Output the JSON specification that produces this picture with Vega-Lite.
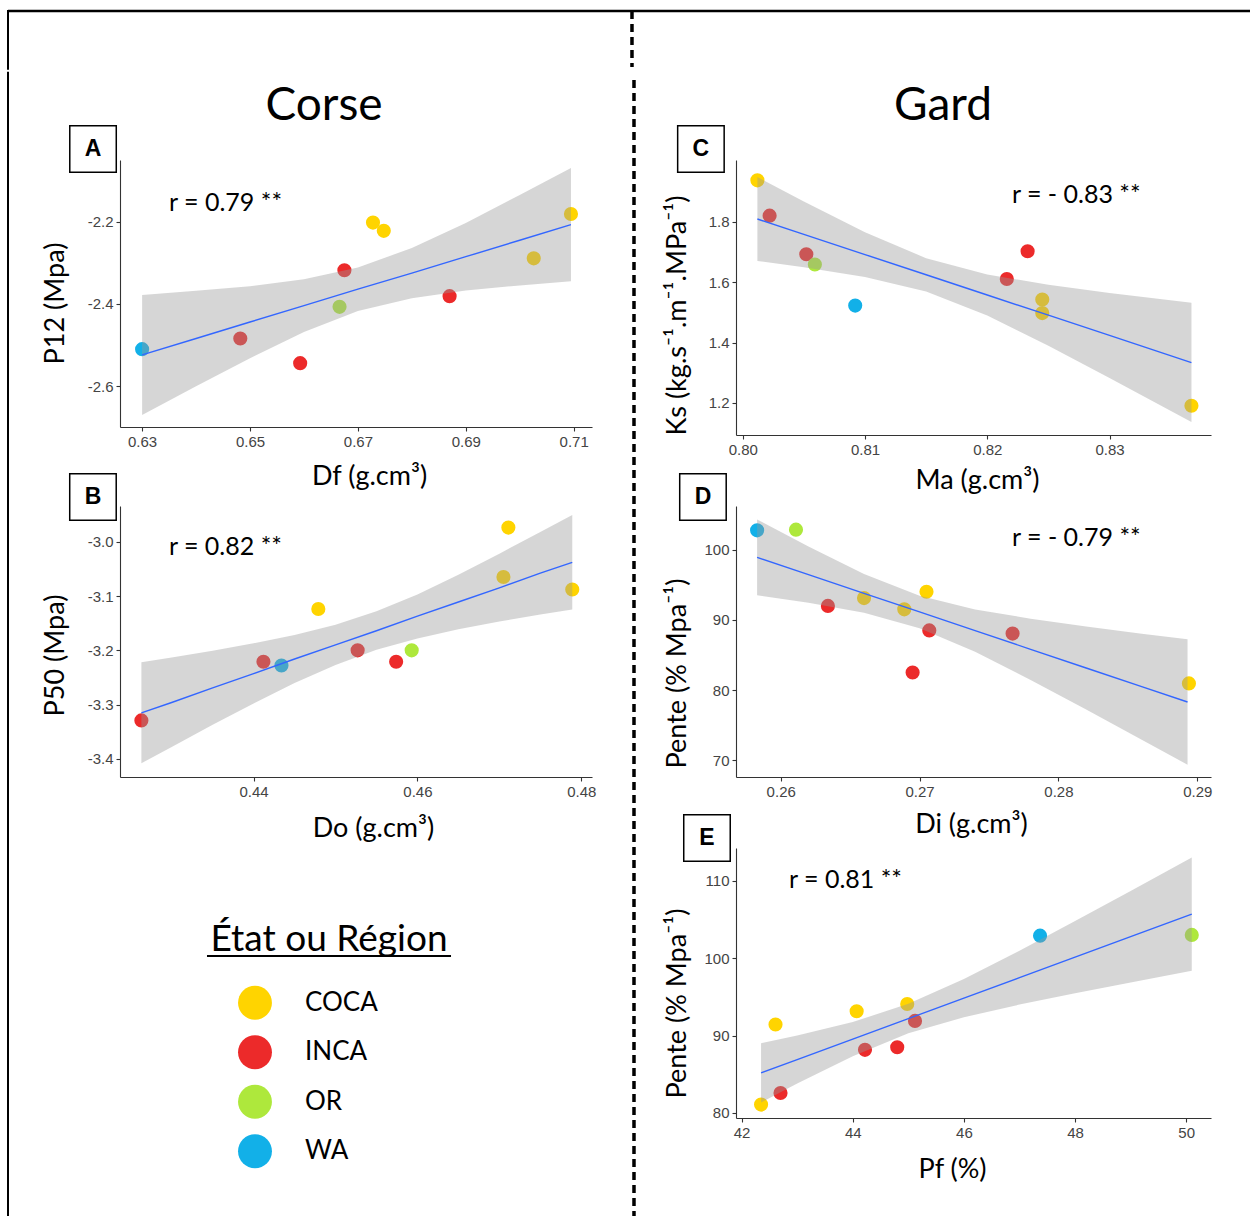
{
  "$schema": "https://vega.github.io/schema/vega-lite/v6.json",
  "padding": {"left": 6, "top": 9, "right": 0, "bottom": 0},
  "background": "white",
  "spacing": 0,
  "datasets": {
    "ptsA": [
      {"region": "WA", "x": 0.6300, "y": -2.510},
      {"region": "INCA", "x": 0.6482, "y": -2.484},
      {"region": "INCA", "x": 0.6593, "y": -2.544},
      {"region": "OR", "x": 0.6666, "y": -2.407},
      {"region": "INCA", "x": 0.6675, "y": -2.318},
      {"region": "COCA", "x": 0.6728, "y": -2.202},
      {"region": "COCA", "x": 0.6748, "y": -2.222},
      {"region": "INCA", "x": 0.6870, "y": -2.381},
      {"region": "COCA", "x": 0.7026, "y": -2.289},
      {"region": "COCA", "x": 0.7095, "y": -2.181}
    ],
    "fitA": [
      {"x": 0.63, "fit": -2.524, "lo": -2.670, "hi": -2.378},
      {"x": 0.64, "fit": -2.484, "lo": -2.600, "hi": -2.368},
      {"x": 0.65, "fit": -2.444, "lo": -2.532, "hi": -2.357},
      {"x": 0.66, "fit": -2.404, "lo": -2.468, "hi": -2.340},
      {"x": 0.67, "fit": -2.364, "lo": -2.417, "hi": -2.311},
      {"x": 0.68, "fit": -2.325, "lo": -2.386, "hi": -2.264},
      {"x": 0.69, "fit": -2.285, "lo": -2.367, "hi": -2.203},
      {"x": 0.70, "fit": -2.245, "lo": -2.355, "hi": -2.135},
      {"x": 0.7095, "fit": -2.207, "lo": -2.345, "hi": -2.069}
    ],
    "ptsB": [
      {"region": "INCA", "x": 0.4263, "y": -3.329},
      {"region": "INCA", "x": 0.4412, "y": -3.221},
      {"region": "WA", "x": 0.4434, "y": -3.228},
      {"region": "COCA", "x": 0.4479, "y": -3.124},
      {"region": "INCA", "x": 0.4527, "y": -3.200},
      {"region": "INCA", "x": 0.4574, "y": -3.221},
      {"region": "OR", "x": 0.4593, "y": -3.200},
      {"region": "COCA", "x": 0.4705, "y": -3.065},
      {"region": "COCA", "x": 0.4711, "y": -2.974},
      {"region": "COCA", "x": 0.4789, "y": -3.088}
    ],
    "fitB": [
      {"x": 0.4263, "fit": -3.315, "lo": -3.408, "hi": -3.222},
      {"x": 0.430, "fit": -3.296, "lo": -3.378, "hi": -3.213},
      {"x": 0.435, "fit": -3.269, "lo": -3.337, "hi": -3.201},
      {"x": 0.440, "fit": -3.243, "lo": -3.298, "hi": -3.187},
      {"x": 0.445, "fit": -3.216, "lo": -3.260, "hi": -3.172},
      {"x": 0.450, "fit": -3.190, "lo": -3.227, "hi": -3.153},
      {"x": 0.455, "fit": -3.164, "lo": -3.199, "hi": -3.128},
      {"x": 0.460, "fit": -3.137, "lo": -3.178, "hi": -3.097},
      {"x": 0.465, "fit": -3.111, "lo": -3.161, "hi": -3.061},
      {"x": 0.470, "fit": -3.085, "lo": -3.147, "hi": -3.022},
      {"x": 0.475, "fit": -3.058, "lo": -3.134, "hi": -2.982},
      {"x": 0.4789, "fit": -3.038, "lo": -3.125, "hi": -2.951}
    ],
    "ptsC": [
      {"region": "COCA", "x": 0.8012, "y": 1.938},
      {"region": "INCA", "x": 0.8022, "y": 1.821},
      {"region": "INCA", "x": 0.8052, "y": 1.693},
      {"region": "OR", "x": 0.8059, "y": 1.659},
      {"region": "WA", "x": 0.8092, "y": 1.523},
      {"region": "INCA", "x": 0.8216, "y": 1.611},
      {"region": "INCA", "x": 0.8233, "y": 1.703},
      {"region": "COCA", "x": 0.8245, "y": 1.543},
      {"region": "COCA", "x": 0.8245, "y": 1.498},
      {"region": "COCA", "x": 0.8367, "y": 1.191}
    ],
    "fitC": [
      {"x": 0.8012, "fit": 1.810, "lo": 1.671, "hi": 1.949},
      {"x": 0.805, "fit": 1.759, "lo": 1.650, "hi": 1.868},
      {"x": 0.810, "fit": 1.692, "lo": 1.618, "hi": 1.766},
      {"x": 0.815, "fit": 1.625, "lo": 1.570, "hi": 1.680},
      {"x": 0.820, "fit": 1.558, "lo": 1.490, "hi": 1.626},
      {"x": 0.825, "fit": 1.491, "lo": 1.390, "hi": 1.592},
      {"x": 0.830, "fit": 1.424, "lo": 1.283, "hi": 1.565},
      {"x": 0.8367, "fit": 1.334, "lo": 1.137, "hi": 1.532}
    ],
    "ptsD": [
      {"region": "WA", "x": 0.2583, "y": 102.75},
      {"region": "OR", "x": 0.2611, "y": 102.85},
      {"region": "INCA", "x": 0.2634, "y": 91.99},
      {"region": "COCA", "x": 0.2660, "y": 93.1},
      {"region": "COCA", "x": 0.2689, "y": 91.5},
      {"region": "COCA", "x": 0.2705, "y": 94.0},
      {"region": "INCA", "x": 0.2707, "y": 88.5},
      {"region": "INCA", "x": 0.2695, "y": 82.5},
      {"region": "INCA", "x": 0.2767, "y": 88.05},
      {"region": "COCA", "x": 0.2894, "y": 80.95}
    ],
    "fitD": [
      {"x": 0.2583, "fit": 98.90, "lo": 93.50, "hi": 104.30},
      {"x": 0.262, "fit": 96.44, "lo": 92.44, "hi": 100.44},
      {"x": 0.266, "fit": 93.78, "lo": 91.02, "hi": 96.54},
      {"x": 0.270, "fit": 91.13, "lo": 88.82, "hi": 93.44},
      {"x": 0.274, "fit": 88.47, "lo": 85.45, "hi": 91.49},
      {"x": 0.278, "fit": 85.81, "lo": 81.45, "hi": 90.17},
      {"x": 0.282, "fit": 83.15, "lo": 77.24, "hi": 89.06},
      {"x": 0.286, "fit": 80.49, "lo": 72.94, "hi": 88.04},
      {"x": 0.2893, "fit": 78.30, "lo": 69.37, "hi": 87.23}
    ],
    "ptsE": [
      {"region": "COCA", "x": 42.35, "y": 81.08},
      {"region": "INCA", "x": 42.70, "y": 82.58},
      {"region": "COCA", "x": 42.61, "y": 91.42},
      {"region": "COCA", "x": 44.07, "y": 93.14},
      {"region": "INCA", "x": 44.22, "y": 88.15},
      {"region": "INCA", "x": 44.80, "y": 88.49},
      {"region": "COCA", "x": 44.98, "y": 94.07},
      {"region": "INCA", "x": 45.12, "y": 91.89},
      {"region": "WA", "x": 47.37, "y": 102.9},
      {"region": "OR", "x": 50.10, "y": 103.0}
    ],
    "fitE": [
      {"x": 42.35, "fit": 85.18, "lo": 81.35, "hi": 89.01},
      {"x": 43, "fit": 86.90, "lo": 83.80, "hi": 90.00},
      {"x": 44, "fit": 89.54, "lo": 87.34, "hi": 91.74},
      {"x": 45, "fit": 92.19, "lo": 90.28, "hi": 94.10},
      {"x": 46, "fit": 94.83, "lo": 92.37, "hi": 97.29},
      {"x": 47, "fit": 97.48, "lo": 94.00, "hi": 100.96},
      {"x": 48, "fit": 100.12, "lo": 95.46, "hi": 104.78},
      {"x": 49, "fit": 102.77, "lo": 96.86, "hi": 108.68},
      {"x": 50.1, "fit": 105.68, "lo": 98.36, "hi": 113.00}
    ],
    "regions": [
      {"region": "COCA"}, {"region": "INCA"}, {"region": "OR"}, {"region": "WA"}
    ],
    "one": [{}]
  },
  "vconcat": [
    {
      "width": 1242,
      "height": 56,
      "data": {"name": "one"},
      "layer": [
        {"mark": {"type": "rule", "color": "black", "strokeWidth": 2.5},
         "encoding": {"y": {"datum": 1, "type": "quantitative", "scale": {"domain": [0, 1]}, "axis": null}}},
        {"mark": {"type": "rule", "color": "black", "strokeWidth": 2, "strokeCap": "square"},
         "encoding": {
           "x": {"datum": 0, "type": "quantitative", "scale": {"domain": [0, 1]}, "axis": null},
           "y": {"datum": 1, "type": "quantitative"},
           "y2": {"datum": -0.03}}},
        {"mark": {"type": "rule", "color": "black", "strokeWidth": 3.5, "strokeDash": [8, 5]},
         "encoding": {"x": {"datum": 0.5024, "type": "quantitative"}}}
      ]
    },
    {
      "spacing": 0,
      "hconcat": [
        {
          "width": 33,
          "height": 1059,
          "data": {"name": "one"},
          "mark": {"type": "rule", "color": "black", "strokeWidth": 2, "strokeCap": "square"},
          "encoding": {
            "x": {"datum": 0, "type": "quantitative", "scale": {"domain": [0, 1]}, "axis": null},
            "y": {"datum": 0, "type": "quantitative", "scale": {"domain": [0, 1]}, "axis": null},
            "y2": {"datum": 1.0825}
          }
        },
        {
          "spacing": 79,
          "bounds": "flush",
          "vconcat": [
            {
              "width": 472,
              "height": 267,
              "layer": [
                {"data": {"name": "ptsA"}, "mark": {"type": "circle", "size": 200, "opacity": 1},
                 "encoding": {
                   "x": {"field": "x", "type": "quantitative", "scale": {"domain": [0.6259, 0.7134], "nice": false, "zero": false},
                         "axis": {"title": "Df (g.cm³)", "values": [0.63, 0.65, 0.67, 0.69, 0.71], "format": ".2f", "titlePadding": 14, "titleX": 249}},
                   "y": {"field": "y", "type": "quantitative", "scale": {"domain": [-2.6994, -2.0497], "nice": false, "zero": false},
                         "axis": {"title": "P12 (Mpa)", "values": [-2.6, -2.4, -2.2], "format": ".1f", "titlePadding": 18, "titleY": 143}},
                   "color": {"field": "region", "type": "nominal", "scale": {"domain": ["COCA", "INCA", "OR", "WA"], "range": ["#FFD400", "#EC2A2A", "#AEE83C", "#12B0E8"]}, "legend": null}}},
                {"data": {"name": "fitA"}, "mark": {"type": "area", "color": "#999999", "opacity": 0.4},
                 "encoding": {"x": {"field": "x", "type": "quantitative", "title": "Df (g.cm³)"}, "y": {"field": "lo", "type": "quantitative", "title": "P12 (Mpa)"}, "y2": {"field": "hi"}}},
                {"data": {"name": "fitA"}, "mark": {"type": "line", "color": "#3366FF", "strokeWidth": 1.4},
                 "encoding": {"x": {"field": "x", "type": "quantitative", "title": "Df (g.cm³)"}, "y": {"field": "fit", "type": "quantitative", "title": "P12 (Mpa)"}}},
                {"data": {"name": "one"}, "mark": {"type": "text", "align": "left", "baseline": "middle", "font": "Lato", "fontSize": 25, "color": "black"},
                 "encoding": {"x": {"datum": 0.635}, "y": {"datum": -2.1543}, "text": {"value": "r = 0.79 **"}}},
                {"data": {"name": "one"}, "mark": {"type": "point", "shape": "square", "size": 2162, "filled": false, "color": "black", "strokeWidth": 1.5, "opacity": 1},
                 "encoding": {"x": {"datum": 0.6209}, "y": {"datum": -2.0229}}},
                {"data": {"name": "one"}, "mark": {"type": "text", "align": "center", "baseline": "middle", "font": "Liberation Sans", "fontWeight": "bold", "fontSize": 23, "color": "black"},
                 "encoding": {"x": {"datum": 0.6209}, "y": {"datum": -2.0229}, "text": {"value": "A"}}},
                {"data": {"name": "one"}, "mark": {"type": "text", "align": "center", "baseline": "alphabetic", "font": "Lato", "fontSize": 46, "color": "black"},
                 "encoding": {"x": {"datum": 0.66372}, "y": {"datum": -1.9524}, "text": {"value": "Corse"}}}
              ]
            },
            {
              "width": 472,
              "height": 271,
              "layer": [
                {"data": {"name": "ptsB"}, "mark": {"type": "circle", "size": 200, "opacity": 1},
                 "encoding": {
                   "x": {"field": "x", "type": "quantitative", "scale": {"domain": [0.42369, 0.48131], "nice": false, "zero": false},
                         "axis": {"title": "Do (g.cm³)", "values": [0.44, 0.46, 0.48], "format": ".2f", "titlePadding": 16, "titleX": 253}},
                   "y": {"field": "y", "type": "quantitative", "scale": {"domain": [-3.4332, -2.9343], "nice": false, "zero": false},
                         "axis": {"title": "P50 (Mpa)", "values": [-3.4, -3.3, -3.2, -3.1, -3.0], "format": ".1f", "titlePadding": 18, "titleY": 149}},
                   "color": {"field": "region", "type": "nominal", "scale": {"domain": ["COCA", "INCA", "OR", "WA"], "range": ["#FFD400", "#EC2A2A", "#AEE83C", "#12B0E8"]}, "legend": null}}},
                {"data": {"name": "fitB"}, "mark": {"type": "area", "color": "#999999", "opacity": 0.4},
                 "encoding": {"x": {"field": "x", "type": "quantitative", "title": "Do (g.cm³)"}, "y": {"field": "lo", "type": "quantitative", "title": "P50 (Mpa)"}, "y2": {"field": "hi"}}},
                {"data": {"name": "fitB"}, "mark": {"type": "line", "color": "#3366FF", "strokeWidth": 1.4},
                 "encoding": {"x": {"field": "x", "type": "quantitative", "title": "Do (g.cm³)"}, "y": {"field": "fit", "type": "quantitative", "title": "P50 (Mpa)"}}},
                {"data": {"name": "one"}, "mark": {"type": "text", "align": "left", "baseline": "middle", "font": "Lato", "fontSize": 25, "color": "black"},
                 "encoding": {"x": {"datum": 0.42967}, "y": {"datum": -3.00978}, "text": {"value": "r = 0.82 **"}}},
                {"data": {"name": "one"}, "mark": {"type": "point", "shape": "square", "size": 2162, "filled": false, "color": "black", "strokeWidth": 1.5, "opacity": 1},
                 "encoding": {"x": {"datum": 0.42039}, "y": {"datum": -2.91773}}},
                {"data": {"name": "one"}, "mark": {"type": "text", "align": "center", "baseline": "middle", "font": "Liberation Sans", "fontWeight": "bold", "fontSize": 23, "color": "black"},
                 "encoding": {"x": {"datum": 0.42039}, "y": {"datum": -2.91773}, "text": {"value": "B"}}}
              ]
            },
            {
              "width": 472,
              "height": 320,
              "data": {"name": "regions"},
              "resolve": {"scale": {"y": "independent"}},
              "layer": [
                {"mark": {"type": "circle", "size": 1150, "opacity": 1},
                 "encoding": {
                   "x": {"datum": 0.286, "type": "quantitative", "scale": {"domain": [0, 1]}, "axis": null},
                   "y": {"field": "region", "type": "nominal", "scale": {"type": "band", "domain": ["_", "__", "COCA", "INCA", "OR", "WA"], "paddingInner": 0, "paddingOuter": 0.2323, "align": 1}, "axis": null},
                   "color": {"field": "region", "type": "nominal", "scale": {"domain": ["COCA", "INCA", "OR", "WA"], "range": ["#FFD400", "#EC2A2A", "#AEE83C", "#12B0E8"]}, "legend": null}}},
                {"mark": {"type": "text", "align": "left", "baseline": "middle", "font": "Lato", "fontSize": 26, "color": "black"},
                 "encoding": {
                   "x": {"datum": 0.392, "type": "quantitative"},
                   "y": {"field": "region", "type": "nominal", "scale": {"type": "band", "domain": ["_", "__", "COCA", "INCA", "OR", "WA"], "paddingInner": 0, "paddingOuter": 0.2323, "align": 1}, "axis": null},
                   "text": {"field": "region"}}},
                {"data": {"name": "one"}, "mark": {"type": "text", "align": "center", "baseline": "alphabetic", "font": "Lato", "fontSize": 37, "color": "black"},
                 "encoding": {
                   "x": {"datum": 0.4428, "type": "quantitative"},
                   "y": {"datum": 0.7031, "type": "quantitative", "scale": {"domain": [0, 1]}, "axis": null},
                   "text": {"value": "État ou Région"}}},
                {"data": {"name": "one"}, "mark": {"type": "rule", "color": "black", "strokeWidth": 2},
                 "encoding": {
                   "x": {"datum": 0.1843, "type": "quantitative"},
                   "x2": {"datum": 0.7013},
                   "y": {"datum": 0.6875, "type": "quantitative", "scale": {"domain": [0, 1]}, "axis": null}}}
              ]
            }
          ]
        },
        {
          "width": 67,
          "height": 1059,
          "data": {"name": "one"},
          "mark": {"type": "rule", "color": "black", "strokeWidth": 3.5, "strokeDash": [8, 5]},
          "encoding": {
            "x": {"datum": 0.567, "type": "quantitative", "scale": {"domain": [0, 1]}, "axis": null},
            "y": {"datum": 0, "type": "quantitative", "scale": {"domain": [0, 1]}, "axis": null},
            "y2": {"datum": 1.0803}
          }
        },
        {
          "spacing": 71,
          "bounds": "flush",
          "vconcat": [
            {
              "width": 475,
              "height": 275,
              "layer": [
                {"data": {"name": "ptsC"}, "mark": {"type": "circle", "size": 200, "opacity": 1},
                 "encoding": {
                   "x": {"field": "x", "type": "quantitative", "scale": {"domain": [0.79945, 0.8383], "nice": false, "zero": false},
                         "axis": {"title": "Ma (g.cm³)", "values": [0.80, 0.81, 0.82, 0.83], "format": ".2f", "titlePadding": 10, "titleX": 241}},
                   "y": {"field": "y", "type": "quantitative", "scale": {"domain": [1.0939, 2.0055], "nice": false, "zero": false},
                         "axis": {"title": "Ks  (kg.s⁻¹.m⁻¹.MPa⁻¹)", "values": [1.2, 1.4, 1.6, 1.8], "format": ".1f", "titlePadding": 17, "titleY": 155}},
                   "color": {"field": "region", "type": "nominal", "scale": {"domain": ["COCA", "INCA", "OR", "WA"], "range": ["#FFD400", "#EC2A2A", "#AEE83C", "#12B0E8"]}, "legend": null}}},
                {"data": {"name": "fitC"}, "mark": {"type": "area", "color": "#999999", "opacity": 0.4},
                 "encoding": {"x": {"field": "x", "type": "quantitative", "title": "Ma (g.cm³)"}, "y": {"field": "lo", "type": "quantitative", "title": "Ks  (kg.s⁻¹.m⁻¹.MPa⁻¹)"}, "y2": {"field": "hi"}}},
                {"data": {"name": "fitC"}, "mark": {"type": "line", "color": "#3366FF", "strokeWidth": 1.4},
                 "encoding": {"x": {"field": "x", "type": "quantitative", "title": "Ma (g.cm³)"}, "y": {"field": "fit", "type": "quantitative", "title": "Ks  (kg.s⁻¹.m⁻¹.MPa⁻¹)"}}},
                {"data": {"name": "one"}, "mark": {"type": "text", "align": "left", "baseline": "middle", "font": "Lato", "fontSize": 25, "color": "black"},
                 "encoding": {"x": {"datum": 0.82202}, "y": {"datum": 1.8895}, "text": {"value": "r = - 0.83 **"}}},
                {"data": {"name": "one"}, "mark": {"type": "point", "shape": "square", "size": 2162, "filled": false, "color": "black", "strokeWidth": 1.5, "opacity": 1},
                 "encoding": {"x": {"datum": 0.79658}, "y": {"datum": 2.04198}}},
                {"data": {"name": "one"}, "mark": {"type": "text", "align": "center", "baseline": "middle", "font": "Liberation Sans", "fontWeight": "bold", "fontSize": 23, "color": "black"},
                 "encoding": {"x": {"datum": 0.79658}, "y": {"datum": 2.04198}, "text": {"value": "C"}}},
                {"data": {"name": "one"}, "mark": {"type": "text", "align": "center", "baseline": "alphabetic", "font": "Lato", "fontSize": 46, "color": "black"},
                 "encoding": {"x": {"datum": 0.81638}, "y": {"datum": 2.13812}, "text": {"value": "Gard"}}}
              ]
            },
            {
              "width": 475,
              "height": 271,
              "layer": [
                {"data": {"name": "ptsD"}, "mark": {"type": "circle", "size": 200, "opacity": 1},
                 "encoding": {
                   "x": {"field": "x", "type": "quantitative", "scale": {"domain": [0.25678, 0.29099], "nice": false, "zero": false},
                         "axis": {"title": "Di (g.cm³)", "values": [0.26, 0.27, 0.28, 0.29], "format": ".2f", "titlePadding": 12, "titleX": 235}},
                   "y": {"field": "y", "type": "quantitative", "scale": {"domain": [67.62, 106.22], "nice": false, "zero": false},
                         "axis": {"title": "Pente (% Mpa⁻¹)", "values": [70, 80, 90, 100], "format": "d", "titlePadding": 12, "titleY": 167}},
                   "color": {"field": "region", "type": "nominal", "scale": {"domain": ["COCA", "INCA", "OR", "WA"], "range": ["#FFD400", "#EC2A2A", "#AEE83C", "#12B0E8"]}, "legend": null}}},
                {"data": {"name": "fitD"}, "mark": {"type": "area", "color": "#999999", "opacity": 0.4},
                 "encoding": {"x": {"field": "x", "type": "quantitative", "title": "Di (g.cm³)"}, "y": {"field": "lo", "type": "quantitative", "title": "Pente (% Mpa⁻¹)"}, "y2": {"field": "hi"}}},
                {"data": {"name": "fitD"}, "mark": {"type": "line", "color": "#3366FF", "strokeWidth": 1.4},
                 "encoding": {"x": {"field": "x", "type": "quantitative", "title": "Di (g.cm³)"}, "y": {"field": "fit", "type": "quantitative", "title": "Pente (% Mpa⁻¹)"}}},
                {"data": {"name": "one"}, "mark": {"type": "text", "align": "left", "baseline": "middle", "font": "Lato", "fontSize": 25, "color": "black"},
                 "encoding": {"x": {"datum": 0.27666}, "y": {"datum": 101.66}, "text": {"value": "r = - 0.79 **"}}},
                {"data": {"name": "one"}, "mark": {"type": "point", "shape": "square", "size": 2162, "filled": false, "color": "black", "strokeWidth": 1.5, "opacity": 1},
                 "encoding": {"x": {"datum": 0.2544}, "y": {"datum": 107.5}}},
                {"data": {"name": "one"}, "mark": {"type": "text", "align": "center", "baseline": "middle", "font": "Liberation Sans", "fontWeight": "bold", "fontSize": 23, "color": "black"},
                 "encoding": {"x": {"datum": 0.2544}, "y": {"datum": 107.5}, "text": {"value": "D"}}}
              ]
            },
            {
              "width": 475,
              "height": 270,
              "layer": [
                {"data": {"name": "ptsE"}, "mark": {"type": "circle", "size": 200, "opacity": 1},
                 "encoding": {
                   "x": {"field": "x", "type": "quantitative", "scale": {"domain": [41.899, 50.446], "nice": false, "zero": false},
                         "axis": {"title": "Pf (%)", "values": [42, 44, 46, 48, 50], "format": "d", "titlePadding": 16, "titleX": 216}},
                   "y": {"field": "y", "type": "quantitative", "scale": {"domain": [79.35, 114.22], "nice": false, "zero": false},
                         "axis": {"title": "Pente (% Mpa⁻¹)", "values": [80, 90, 100, 110], "format": "d", "titlePadding": 12, "titleY": 155}},
                   "color": {"field": "region", "type": "nominal", "scale": {"domain": ["COCA", "INCA", "OR", "WA"], "range": ["#FFD400", "#EC2A2A", "#AEE83C", "#12B0E8"]}, "legend": null}}},
                {"data": {"name": "fitE"}, "mark": {"type": "area", "color": "#999999", "opacity": 0.4},
                 "encoding": {"x": {"field": "x", "type": "quantitative", "title": "Pf (%)"}, "y": {"field": "lo", "type": "quantitative", "title": "Pente (% Mpa⁻¹)"}, "y2": {"field": "hi"}}},
                {"data": {"name": "fitE"}, "mark": {"type": "line", "color": "#3366FF", "strokeWidth": 1.4},
                 "encoding": {"x": {"field": "x", "type": "quantitative", "title": "Pf (%)"}, "y": {"field": "fit", "type": "quantitative", "title": "Pente (% Mpa⁻¹)"}}},
                {"data": {"name": "one"}, "mark": {"type": "text", "align": "left", "baseline": "middle", "font": "Lato", "fontSize": 25, "color": "black"},
                 "encoding": {"x": {"datum": 42.853}, "y": {"datum": 110.09}, "text": {"value": "r = 0.81 **"}}},
                {"data": {"name": "one"}, "mark": {"type": "point", "shape": "square", "size": 2162, "filled": false, "color": "black", "strokeWidth": 1.5, "opacity": 1},
                 "encoding": {"x": {"datum": 41.377}, "y": {"datum": 115.51}}},
                {"data": {"name": "one"}, "mark": {"type": "text", "align": "center", "baseline": "middle", "font": "Liberation Sans", "fontWeight": "bold", "fontSize": 23, "color": "black"},
                 "encoding": {"x": {"datum": 41.377}, "y": {"datum": 115.51}, "text": {"value": "E"}}}
              ]
            }
          ]
        }
      ]
    }
  ],
  "config": {
    "locale": {"number": {"decimal": ".", "thousands": ",", "grouping": [3], "currency": ["$", ""], "minus": "-"}},
    "view": {"stroke": null},
    "axis": {
      "grid": false,
      "domainColor": "#333333",
      "domainWidth": 1.1,
      "tickColor": "#333333",
      "tickWidth": 1.1,
      "tickSize": 4,
      "labelFont": "Liberation Sans",
      "labelFontSize": 15,
      "labelColor": "#444444",
      "labelPadding": 3,
      "labelFlush": false,
      "labelOverlap": false,
      "titleFont": "Lato",
      "titleFontSize": 27,
      "titleFontWeight": "normal",
      "titleColor": "black"
    }
  }
}
